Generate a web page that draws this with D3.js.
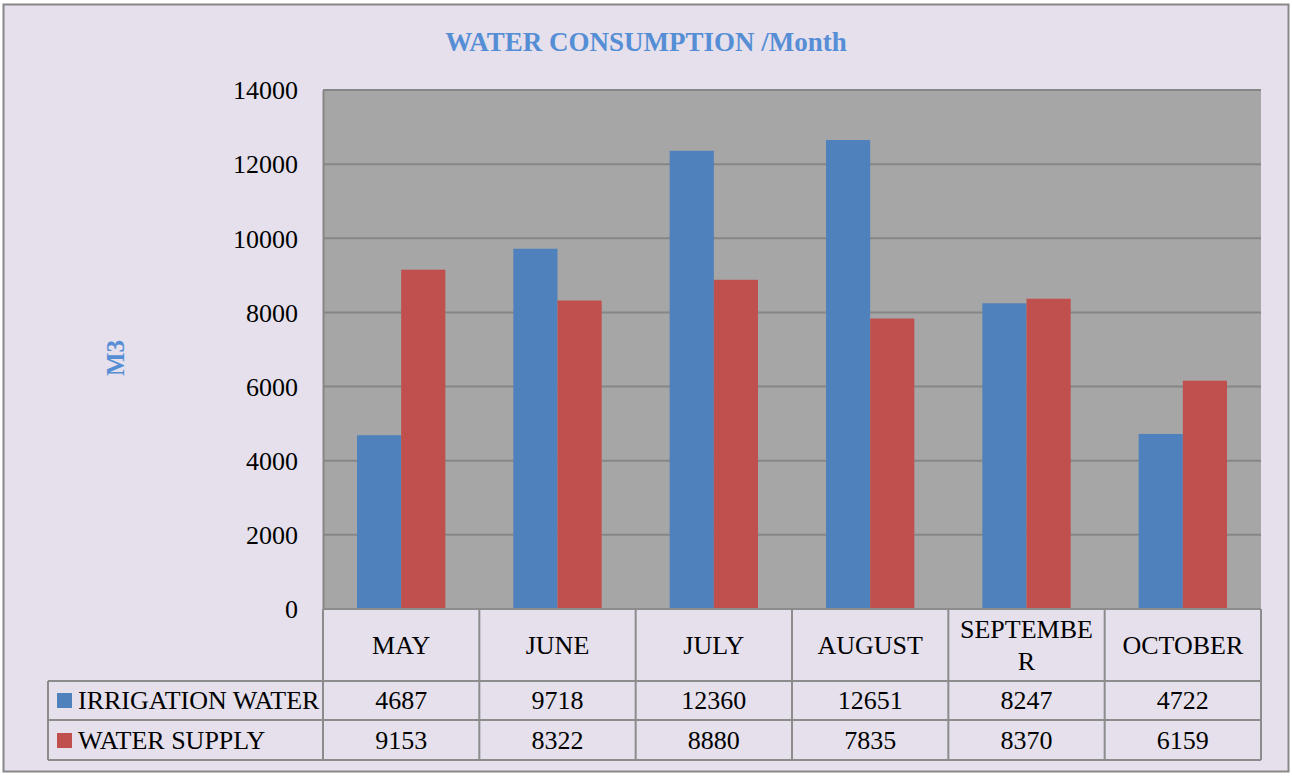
<!DOCTYPE html>
<html><head><meta charset="utf-8">
<script src="https://cdn.jsdelivr.net/npm/d3@7"></script>
<style>
html,body{margin:0;padding:0;background:#fff;}
svg{display:block;}
text{font-family:"Liberation Serif","DejaVu Serif",serif;}
</style></head>
<body>
<script>
const categories = ["MAY","JUNE","JULY","AUGUST","SEPTEMBER","OCTOBER"];
const categoryLines = [["MAY"],["JUNE"],["JULY"],["AUGUST"],["SEPTEMBE","R"],["OCTOBER"]];
const seriesNames = ["IRRIGATION WATER","WATER SUPPLY"];
const irrigation = [4687,9718,12360,12651,8247,4722];
const supply = [9153,8322,8880,7835,8370,6159];
const yTicks = [0,2000,4000,6000,8000,10000,12000,14000];
const colors = ["#4f81bd","#c0504d"];

(function(){
const W=1292,H=776,FS=26;
const svg=d3.select("body").append("svg").attr("width",W).attr("height",H);
svg.append("rect").attr("x",3.5).attr("y",4.5).attr("width",1285).attr("height",767)
  .attr("fill","#e5e0ec").attr("stroke","#888").attr("stroke-width",2);

const pLeft=323,pRight=1261,pTop=90,pBottom=609;
const y=d3.scaleLinear().domain([0,14000]).range([pBottom,pTop]);
const x0=d3.scaleBand().domain(categories).range([pLeft,pRight]).paddingInner(0.435).paddingOuter(0.2175);
const x1=d3.scaleBand().domain(seriesNames).range([0,x0.bandwidth()]);

svg.append("rect").attr("x",pLeft).attr("y",pTop).attr("width",pRight-pLeft).attr("height",pBottom-pTop).attr("fill","#a6a6a6");
svg.append("g").selectAll("line").data(yTicks.filter(d=>d>0)).join("line")
  .attr("x1",pLeft).attr("x2",pRight).attr("y1",d=>y(d)).attr("y2",d=>y(d))
  .attr("stroke","#868686").attr("stroke-width",2);

const series=[irrigation,supply];
series.forEach((vals,si)=>{
  svg.append("g").selectAll("rect").data(vals).join("rect")
    .attr("x",(d,i)=>x0(categories[i])+x1(seriesNames[si]))
    .attr("width",x1.bandwidth())
    .attr("y",d=>y(d)).attr("height",d=>y(0)-y(d))
    .attr("fill",colors[si]);
});

const yAxis=d3.axisLeft(y).tickValues(yTicks).tickSize(0).tickPadding(25).tickFormat(d3.format("d"));
const ga=svg.append("g").attr("transform",`translate(${pLeft},0)`).call(yAxis);
ga.select(".domain").attr("stroke","#868686").attr("stroke-width",2);
ga.selectAll("text").attr("font-size",FS).attr("fill","#000").attr("font-family","Liberation Serif, serif").attr("dy","0.34em");

svg.append("text").attr("x",646).attr("y",51).attr("text-anchor","middle")
  .attr("font-size",27).attr("font-weight","bold").attr("fill","#558ed5").text("WATER CONSUMPTION /Month");
svg.append("text").attr("transform","translate(124,358) rotate(-90)").attr("text-anchor","middle")
  .attr("font-size",25).attr("font-weight","bold").attr("fill","#558ed5").text("M3");

const colEdges=categories.map((c,i)=>pLeft+i*(pRight-pLeft)/categories.length);
colEdges.push(pRight);
const tstroke="#8c8c8c";
const tg=svg.append("g");
tg.selectAll("line.v").data(colEdges).join("line").attr("class","v")
  .attr("x1",d=>d).attr("x2",d=>d).attr("y1",609).attr("y2",760).attr("stroke",tstroke).attr("stroke-width",2);
tg.append("line").attr("x1",48).attr("x2",48).attr("y1",681).attr("y2",760).attr("stroke",tstroke).attr("stroke-width",2);
[681,720,760].forEach(yy=>tg.append("line").attr("x1",48).attr("x2",pRight).attr("y1",yy).attr("y2",yy).attr("stroke",tstroke).attr("stroke-width",2));
tg.append("line").attr("x1",pLeft).attr("x2",pRight).attr("y1",609).attr("y2",609).attr("stroke",tstroke).attr("stroke-width",2);

categoryLines.forEach((lines,i)=>{
  const cx=x0(categories[i])+x0.bandwidth()/2;
  const t=tg.append("text").attr("text-anchor","middle").attr("font-size",FS).attr("fill","#000");
  const startY = lines.length===1 ? 654 : 638;
  lines.forEach((l,j)=>t.append("tspan").attr("x",cx).attr("y",startY+j*32).text(l));
});
series.forEach((vals,si)=>{
  const cy=[709,749][si];
  tg.selectAll(null).data(vals).join("text")
    .attr("x",(d,i)=>x0(categories[i])+x0.bandwidth()/2).attr("y",cy)
    .attr("text-anchor","middle").attr("font-size",FS).attr("fill","#000").text(d=>d);
  tg.append("rect").attr("x",57).attr("y",cy-16).attr("width",15).attr("height",15).attr("fill",colors[si]);
  tg.append("text").attr("x",78).attr("y",cy).attr("font-size",FS).attr("fill","#000").text(seriesNames[si]);
});
})();
</script>
</body></html>
